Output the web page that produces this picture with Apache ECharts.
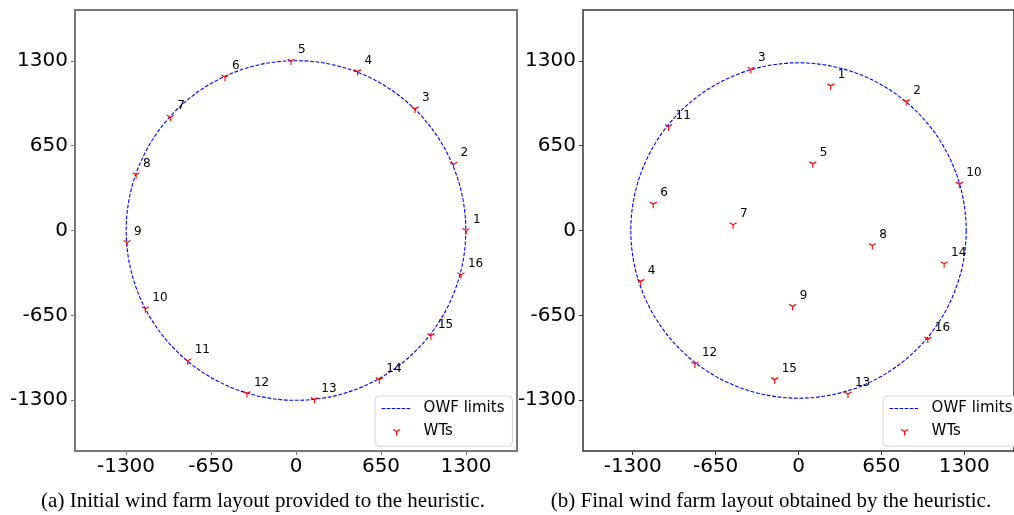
<!DOCTYPE html>
<html>
<head>
<meta charset="utf-8">
<script src="https://cdn.jsdelivr.net/npm/echarts@6/dist/echarts.min.js"></script>
<style>
  html, body { margin: 0; padding: 0; background: #fff; }
  #chart { width: 1014px; height: 515px; }
</style>
</head>
<body>
<div id="chart"></div>
<script>
// turbine positions (metres)
const initId = [1, 2, 3, 4, 5, 6, 7, 8, 9, 10, 11, 12, 13, 14, 15, 16];
const initX = [1300, 1205, 910, 471, -38, -543, -961, -1223, -1292, -1152, -828, -375, 140, 637, 1032, 1261];
const initY = [0, 508, 932, 1218, 1299, 1175, 868, 427, -92, -600, -998, -1250, -1296, -1143, -806, -339];

const finalId = [1, 2, 3, 4, 5, 6, 7, 8, 9, 10, 11, 12, 13, 14, 15, 16];
const finalX = [253, 845, -373, -1237, 112, -1139, -513, 579, -46, 1261, -1019, -812, 388, 1142, -187, 1014];
const finalY = [1108, 988, 1236, -390, 511, 202, 44, -115, -582, 355, 796, -1023, -1253, -255, -1143, -832];

// wind farm boundary: centre + radius
const owfLimits = [[0, 0, 1300]];

const axisMin = -1690;
const axisMax = 1690;
const tickValues = [-1300, -650, 0, 650, 1300];

const captions = [
  '(a) Initial wind farm layout provided to the heuristic.',
  '(b) Final wind farm layout obtained by the heuristic.'
];

const font = 'DejaVu Sans';
const turbineSymbol = 'path://M0,-5M0,0L0,5M0,0L-4.33,-2.5M0,0L4.33,-2.5';
const dashIcon = 'path://M-15,-7M15,7M-15,-0.6h3.6v1.2h-3.6zM-10,-0.6h3.6v1.2h-3.6zM-5,-0.6h3.6v1.2h-3.6zM0,-0.6h3.6v1.2h-3.6zM5,-0.6h3.6v1.2h-3.6zM10,-0.6h3.6v1.2h-3.6z';
const legendTurbine = 'path://M-15,-7M15,7M0,0L0,4M0,0L-3.46,-2M0,0L3.46,-2';

function zip(xs, ys, ids) {
  return xs.map((x, i) => [x, ys[i], ids[i]]);
}

const panels = [
  { left: 75, border: '#777', borderW: 2, data: zip(initX, initY, initId), caption: captions[0], cx: 263 },
  { left: 583, border: '#333', borderW: 1.5, data: zip(finalX, finalY, finalId), caption: captions[1], cx: 771 }
];

const grids = [], xAxes = [], yAxes = [], series = [], legends = [], graphics = [];

panels.forEach((p, i) => {
  grids.push({
    left: p.left, top: 10, width: 442, height: 441,
    show: true, borderColor: p.border, borderWidth: p.borderW, backgroundColor: '#fff'
  });
  const axisCommon = {
    gridIndex: i, type: 'value', min: axisMin, max: axisMax,
    axisLine: { show: false, onZero: false },
    splitLine: { show: false },
    axisTick: { show: true, length: 4, customValues: tickValues, lineStyle: { color: p.border, width: 1 } },
    axisLabel: {
      customValues: tickValues, fontFamily: font, fontSize: 20, color: '#000',
      formatter: (v) => String(v)
    }
  };
  xAxes.push(Object.assign({}, axisCommon, {
    axisLabel: Object.assign({}, axisCommon.axisLabel, { margin: 6 })
  }));
  yAxes.push(Object.assign({}, axisCommon, {
    axisLabel: Object.assign({}, axisCommon.axisLabel, { margin: 7 })
  }));

  series.push({
    name: 'OWF limits',
    type: 'custom',
    xAxisIndex: i, yAxisIndex: i,
    data: owfLimits,
    itemStyle: { color: 'blue' },
    silent: true,
    renderItem: function (params, api) {
      const c = api.coord([api.value(0), api.value(1)]);
      const s = api.size([api.value(2), api.value(2)]);
      return {
        type: 'circle',
        shape: { cx: c[0], cy: c[1], r: (s[0] + s[1]) / 2 },
        style: { fill: 'none', stroke: 'blue', lineWidth: 1.1, lineDash: [3.8, 1.7] }
      };
    }
  });

  series.push({
    name: 'WTs',
    type: 'scatter',
    xAxisIndex: i, yAxisIndex: i,
    data: p.data,
    symbol: turbineSymbol,
    symbolSize: [7, 8],
    itemStyle: { color: 'red', borderColor: 'red', borderWidth: 1.2, opacity: 1 },
    label: {
      show: true,
      position: 'inside',
      align: 'left',
      verticalAlign: 'middle',
      offset: [7, -11],
      formatter: (d) => String(d.value[2]),
      fontFamily: font,
      fontSize: 12,
      color: '#000'
    },
    z: 3
  });

  legends.push({
    left: p.left + 300, top: 396,
    orient: 'vertical',
    backgroundColor: '#fff',
    borderColor: '#d6d6d6', borderWidth: 1, borderRadius: 4,
    padding: [5, 8, 7, 6],
    itemWidth: 30, itemHeight: 14, itemGap: 8,
    textStyle: { fontFamily: font, fontSize: 15, color: '#000', padding: [0, 0, 0, 7] },
    selectedMode: false,
    data: [
      { name: 'OWF limits', icon: dashIcon, itemStyle: { color: 'blue', borderWidth: 0 } },
      { name: 'WTs', icon: legendTurbine, itemStyle: { color: 'red', borderColor: 'red', borderWidth: 1.2 } }
    ]
  });

  graphics.push({
    type: 'text',
    x: p.cx, y: 501,
    style: {
      text: p.caption,
      font: '21px "Liberation Serif"',
      fill: '#000',
      textAlign: 'center',
      textVerticalAlign: 'middle'
    }
  });
});

const chart = echarts.init(document.getElementById('chart'), null, { renderer: 'canvas' });
chart.setOption({
  animation: false,
  backgroundColor: '#fff',
  grid: grids,
  xAxis: xAxes,
  yAxis: yAxes,
  legend: legends,
  series: series,
  graphic: graphics
});
</script>
</body>
</html>
